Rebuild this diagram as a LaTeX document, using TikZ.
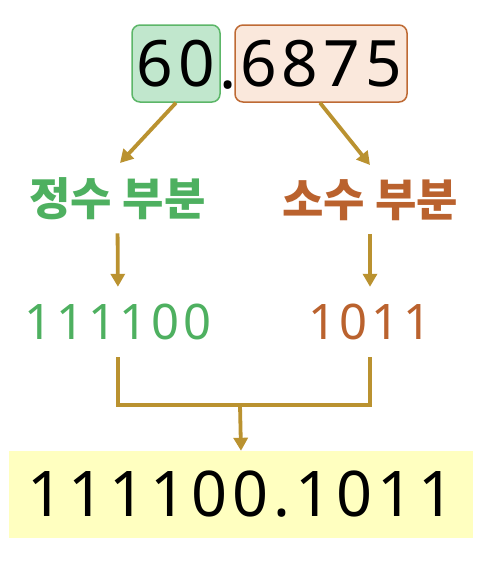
\documentclass[tikz,border=0pt]{standalone}
\usepackage{fontspec}
\setmainfont{Noto Sans}
\newfontfamily\kofont{Noto Sans CJK KR}
\usetikzlibrary{arrows.meta,calc}
\definecolor{gtext}{RGB}{78,176,96}
\definecolor{otext}{RGB}{186,98,46}
\definecolor{gfill}{RGB}{193,231,205}
\definecolor{gline}{RGB}{92,182,104}
\definecolor{ofill}{RGB}{250,232,220}
\definecolor{oline}{RGB}{190,106,52}
\definecolor{gold}{RGB}{186,146,48}
\definecolor{yfill}{RGB}{255,255,192}
\tikzset{
  numbox/.style={rectangle, rounded corners=8pt, line width=1.5pt, inner sep=0pt, minimum height=77pt,
    font=\fontsize{64}{64}\selectfont},
  lbl/.style={inner sep=0pt, font=\kofont\bfseries\fontsize{45}{45}\selectfont},
  bin/.style={inner sep=0pt, font=\fontsize{49}{49}\selectfont\addfontfeature{LetterSpace=8}},
  conn/.style={draw=gold, line width=3.8pt},
  arr/.style={conn, -{Triangle[length=13pt,width=14pt]}},
}
\begin{document}
\begin{tikzpicture}[x=1pt,y=-1pt]
\useasboundingbox (0,0) rectangle (491,566);
\node[numbox, draw=gline, fill=gfill, minimum width=88pt] (b60) at (176,63.5) {6\kern5pt0};
\node[numbox, draw=oline, fill=ofill, minimum width=172pt] (b6875) at (321,63.5) {6\kern5pt8\kern5pt7\kern5pt5};
\node[inner sep=0pt, anchor=base, font=\fontsize{64}{64}\selectfont] (dot) at (228,88) {\makebox[8pt]{.}};
\node[lbl, text=gtext] (lab1) at (117.5,199) {정수 부분};
\node[lbl, text=otext] (lab2) at (370,200) {소수 부분};
\node[bin, text=gtext] (bin1) at (118,322) {111100};
\node[bin, text=otext] (bin2) at (370,322) {1011};
\node[rectangle, fill=yfill, minimum width=464pt, minimum height=87pt, inner sep=0pt,
  font=\fontsize{63}{63}\selectfont\addfontfeature{LetterSpace=8}] (res) at (241,494.5) {111100.1011};
\coordinate (e1) at (120,163);
\coordinate (e2) at (370,165);
\coordinate (jn) at (240,405);
\draw[arr] (b60.south) -- (e1);
\draw[arr] ([xshift=-1pt]b6875.south) -- (e2);
\draw[arr, shorten <=13pt, shorten >=17pt] (lab1.south) -- (bin1.north);
\draw[arr, shorten <=13pt, shorten >=17pt] (lab2.south) -- (bin2.north);
\draw[conn] ([yshift=-17pt]bin1.south) |- (jn) -| ([yshift=-17pt]bin2.south);
\draw[arr] (jn) -- (res.north);
\end{tikzpicture}
\end{document}
